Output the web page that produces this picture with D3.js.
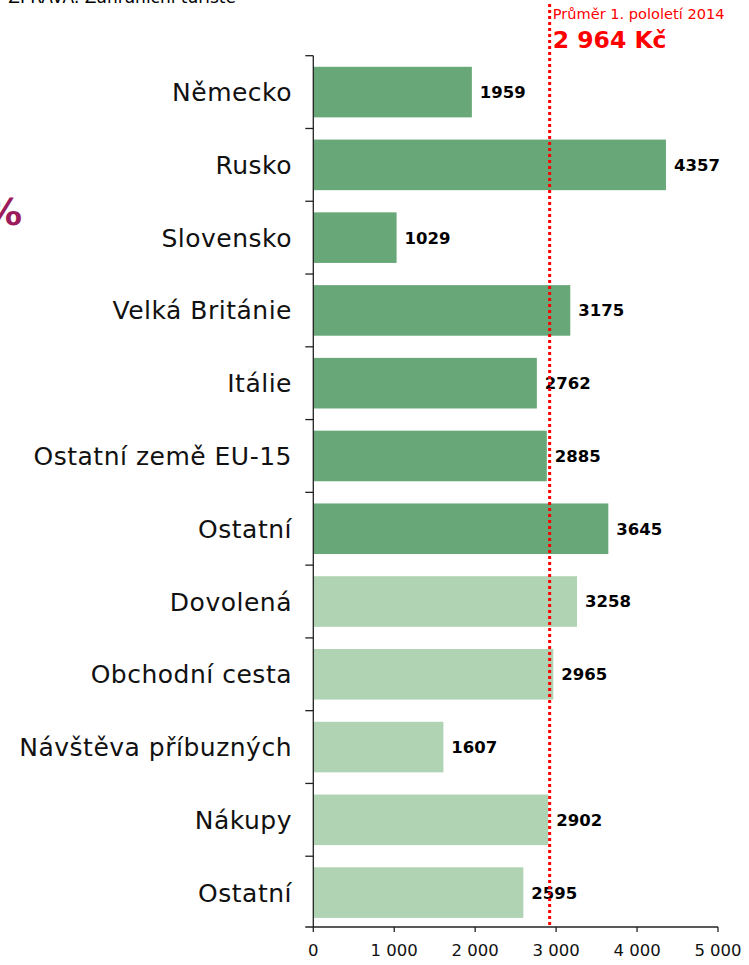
<!DOCTYPE html>
<html>
<head>
<meta charset="utf-8">
<script src="https://cdn.jsdelivr.net/npm/d3@7"></script>
<style>
  body { margin: 0; background: #fff; }
  svg { display: block; font-family: "DejaVu Sans", Verdana, sans-serif; }
</style>
</head>
<body>
<div id="chart"></div>
<script>
// categories top to bottom, first seven are countries, rest are trip purposes
var categories = ["Německo", "Rusko", "Slovensko", "Velká Británie", "Itálie", "Ostatní země EU-15", "Ostatní",
                  "Dovolená", "Obchodní cesta", "Návštěva příbuzných", "Nákupy", "Ostatní "];
var values = [1959, 4357, 1029, 3175, 2762, 2885, 3645, 3258, 2965, 1607, 2902, 2595];
var groups = ["zeme", "zeme", "zeme", "zeme", "zeme", "zeme", "zeme",
              "ucel", "ucel", "ucel", "ucel", "ucel"];
var xTicks = [0, 1000, 2000, 3000, 4000, 5000];
// average line, drawn where it sits in the picture
var avgLabel = "Průměr 1. pololetí 2014";
var avgText = "2 964 Kč";
var avgLinePos = 2920;

var width = 749, height = 965;
var margin = { left: 313.3, right: 31, top: 55.7, bottom: 36 };

var svg = d3.select("#chart").append("svg")
    .attr("width", width)
    .attr("height", height);

var x = d3.scaleLinear()
    .domain([0, 5000])
    .range([margin.left, width - margin.right]);

var y = d3.scaleBand()
    .domain(categories)
    .range([margin.top, height - margin.bottom])
    .paddingInner(0.305)
    .paddingOuter(0.1525);

var color = d3.scaleOrdinal()
    .domain(["zeme", "ucel"])
    .range(["#68a778", "#afd3b3"]);

var data = categories.map(function (c, i) { return { cat: c, val: values[i], grp: groups[i] }; });

// cut header text at the very top and the "%" on the left edge
svg.append("text")
    .attr("x", 236).attr("y", 3)
    .attr("text-anchor", "end")
    .style("font-size", "17px")
    .text("ZPRÁVA: Zahraniční turisté");

svg.append("text")
    .attr("x", -16).attr("y", 225)
    .style("font-size", "38px")
    .style("font-weight", "bold")
    .attr("fill", "#9b1b5b")
    .text("%");

// bars
svg.append("g")
    .selectAll("rect")
    .data(data)
    .enter()
    .append("rect")
    .attr("x", x(0))
    .attr("y", function (d) { return y(d.cat); })
    .attr("width", function (d) { return x(d.val) - x(0); })
    .attr("height", y.bandwidth())
    .attr("fill", function (d) { return color(d.grp); });

// value labels
svg.append("g")
    .selectAll("text")
    .data(data)
    .enter()
    .append("text")
    .attr("x", function (d) { return x(d.val) + 8; })
    .attr("y", function (d) { return y(d.cat) + y.bandwidth() / 2; })
    .attr("dy", "0.36em")
    .style("font-size", "16.5px")
    .style("font-weight", "bold")
    .text(function (d) { return d3.format("d")(d.val); });

// category labels
svg.append("g")
    .selectAll("text")
    .data(data)
    .enter()
    .append("text")
    .attr("x", 292)
    .attr("y", function (d) { return y(d.cat) + y.bandwidth() / 2; })
    .attr("dy", "0.36em")
    .attr("text-anchor", "end")
    .style("font-size", "25px")
    .style("letter-spacing", "0.5px")
    .attr("fill", "#111")
    .text(function (d) { return d.cat.trim(); });

// y axis with ticks on band boundaries
var step = y.step();
var yTop = y(categories[0]) - y.paddingOuter() * step;
var axisG = svg.append("g").attr("stroke", "#222").attr("stroke-width", 1.3);
var yBottom = yTop + step * categories.length;
axisG.append("line")
    .attr("x1", x(0)).attr("x2", x(0))
    .attr("y1", yTop).attr("y2", yBottom - 2);
d3.range(categories.length).forEach(function (i) {
    axisG.append("line")
        .attr("x1", x(0) - 8).attr("x2", x(0))
        .attr("y1", yTop + i * step).attr("y2", yTop + i * step);
});

// x axis
var xAxisY = yBottom - 2;
axisG.append("line")
    .attr("x1", x(0) - 8).attr("x2", x(5000))
    .attr("y1", xAxisY).attr("y2", xAxisY);
axisG.selectAll(".xt")
    .data(xTicks)
    .enter()
    .append("line")
    .attr("x1", function (d) { return x(d); })
    .attr("x2", function (d) { return x(d); })
    .attr("y1", xAxisY).attr("y2", xAxisY + 5);

svg.append("g")
    .selectAll("text")
    .data(xTicks)
    .enter()
    .append("text")
    .attr("x", function (d) { return x(d); })
    .attr("y", xAxisY + 29)
    .attr("text-anchor", "middle")
    .style("font-size", "16.5px")
    .attr("fill", "#111")
    .text(function (d) { return d3.format(",")(d).replace(/,/g, " "); });

// average line
svg.append("line")
    .attr("x1", x(avgLinePos)).attr("x2", x(avgLinePos))
    .attr("y1", 4).attr("y2", xAxisY)
    .attr("stroke", "#ff0000")
    .attr("stroke-width", 3)
    .attr("stroke-dasharray", "3,3");

svg.append("text")
    .attr("x", x(avgLinePos) + 3).attr("y", 19)
    .style("font-size", "14.6px")
    .attr("fill", "#ff0000")
    .text(avgLabel);

svg.append("text")
    .attr("x", x(avgLinePos) + 3).attr("y", 48)
    .style("font-size", "23.5px")
    .style("font-weight", "bold")
    .attr("fill", "#ff0000")
    .text(avgText);
</script>
</body>
</html>
